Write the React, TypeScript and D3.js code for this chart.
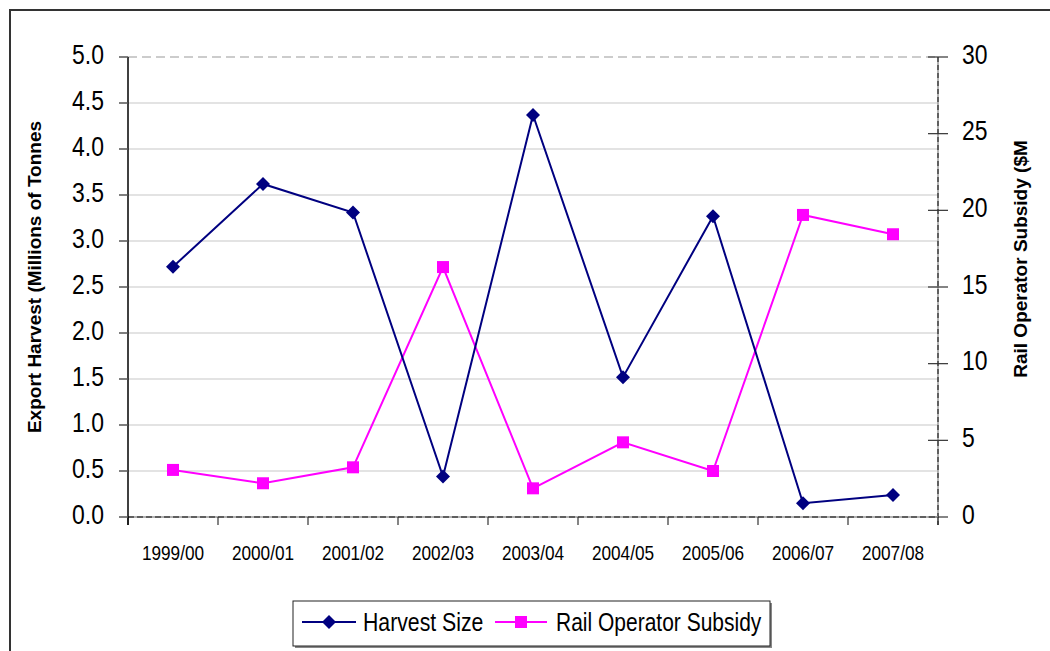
import React from 'react'
import { scaleLinear, scaleBand, line, range } from 'd3'

const categories = ['1999/00', '2000/01', '2001/02', '2002/03', '2003/04', '2004/05', '2005/06', '2006/07', '2007/08']
const harvest = [2.72, 3.62, 3.31, 0.44, 4.37, 1.52, 3.27, 0.15, 0.24]
const subsidy = [3.07, 2.2, 3.24, 16.3, 1.87, 4.87, 3.0, 19.7, 18.44]
const leftTicks = range(0, 5.01, 0.5)
const rightTicks = [0, 5, 10, 15, 20, 25, 30]

const W = 1050
const H = 651
const plot = { left: 128, right: 938, top: 57, bottom: 517 }
const font = 'Liberation Sans, Arial, sans-serif'
const navy = '#000080'
const magenta = '#ff00ff'

const App = () => {
  const x = scaleBand().domain(categories).range([plot.left, plot.right])
  const yL = scaleLinear().domain([0, 5]).range([plot.bottom, plot.top])
  const yR = scaleLinear().domain([0, 30]).range([plot.bottom, plot.top])
  const cx = (c: string) => (x(c) as number) + x.bandwidth() / 2

  const harvestLine = line<number>().x((d, i) => cx(categories[i])).y(d => yL(d))
  const subsidyLine = line<number>().x((d, i) => cx(categories[i])).y(d => yR(d))

  const diamond = (px: number, py: number, r: number) =>
    `M${px},${py - r}L${px + r},${py}L${px},${py + r}L${px - r},${py}Z`

  return (
    <svg width={W} height={H} style={{ position: 'absolute', left: 0, top: 0, background: '#fff' }}>
      <rect x={0} y={0} width={W} height={H} fill="#fff" />
      {/* outer chart border, cut off at right and bottom */}
      <path d={`M10,${H + 5}V10H${W + 5}`} fill="none" stroke="#333" strokeWidth={2} />

      {/* gridlines */}
      {leftTicks.filter(t => t > 0 && t < 5).map(t => (
        <line key={t} x1={plot.left} x2={plot.right} y1={yL(t)} y2={yL(t)} stroke="#c8c8c8" strokeWidth={1.2} />
      ))}
      <line x1={plot.left} x2={plot.right} y1={yL(5)} y2={yL(5)} stroke="#999" strokeWidth={1.2} strokeDasharray="9,5" />

      {/* right axis */}
      <line x1={plot.right} x2={plot.right} y1={plot.top} y2={plot.bottom + 8} stroke="#999" strokeWidth={1.5} />
      <line x1={plot.right} x2={plot.right} y1={plot.top} y2={plot.bottom + 8} stroke="#444" strokeWidth={1.5} strokeDasharray="5,3" />
      {rightTicks.map(t => (
        <g key={t}>
          <line x1={plot.right - 10} x2={plot.right + 10} y1={yR(t)} y2={yR(t)} stroke="#333" strokeWidth={1.2} />
          <text transform={`translate(962,${yR(t) + 6.5}) scale(0.82,1)`} fontFamily={font} fontSize={28} fill="#000">{t}</text>
        </g>
      ))}

      {/* bottom axis */}
      <line x1={plot.left} x2={plot.right} y1={plot.bottom} y2={plot.bottom} stroke="#999" strokeWidth={1.5} />
      <line x1={plot.left} x2={plot.right} y1={plot.bottom} y2={plot.bottom} stroke="#444" strokeWidth={1.5} strokeDasharray="6,3" />
      {range(categories.length + 1).map(i => (
        <line key={i} x1={plot.left + i * x.bandwidth()} x2={plot.left + i * x.bandwidth()} y1={plot.bottom} y2={plot.bottom + 8} stroke="#333" strokeWidth={1.2} />
      ))}
      {categories.map(c => (
        <text key={c} transform={`translate(${cx(c)},560) scale(0.82,1)`} textAnchor="middle" fontFamily={font} fontSize={21} fill="#000">{c}</text>
      ))}

      {/* left axis */}
      <line x1={plot.left} x2={plot.left} y1={plot.top} y2={plot.bottom + 8} stroke="#000" strokeWidth={1.5} />
      {leftTicks.map(t => (
        <g key={t}>
          <line x1={plot.left - 9} x2={plot.left} y1={yL(t)} y2={yL(t)} stroke="#555" strokeWidth={1.5} />
          <text transform={`translate(104,${yL(t) + 6.5}) scale(0.82,1)`} textAnchor="end" fontFamily={font} fontSize={28} fill="#000">{t.toFixed(1)}</text>
        </g>
      ))}

      {/* axis titles */}
      <text transform="translate(41,277) rotate(-90)" textAnchor="middle" fontFamily={font} fontSize={19} fontWeight="bold" fill="#000">
        Export Harvest (Millions of Tonnes
      </text>
      <text transform="translate(1027,259) rotate(-90)" textAnchor="middle" fontFamily={font} fontSize={19} fontWeight="bold" fill="#000">
        Rail Operator Subsidy ($M
      </text>

      {/* series */}
      <path d={subsidyLine(subsidy) as string} fill="none" stroke={magenta} strokeWidth={2} />
      <path d={harvestLine(harvest) as string} fill="none" stroke={navy} strokeWidth={2} />
      {harvest.map((v, i) => (
        <path key={i} d={diamond(cx(categories[i]), yL(v), 7)} fill={navy} />
      ))}
      {subsidy.map((v, i) => (
        <rect key={i} x={cx(categories[i]) - 6} y={yR(v) - 6} width={12} height={12} fill={magenta} />
      ))}

      {/* legend */}
      <rect x={295} y={603} width={477} height={45} fill="#888" />
      <rect x={293} y={601} width={477} height={45} fill="#fff" stroke="#222" strokeWidth={1} />
      <line x1={302} x2={356} y1={622} y2={622} stroke={navy} strokeWidth={2} />
      <path d={diamond(329, 622, 7)} fill={navy} />
      <text transform="translate(363,631) scale(0.85,1)" fontFamily={font} fontSize={25} fill="#000">Harvest Size</text>
      <line x1={495} x2={547} y1={622} y2={622} stroke={magenta} strokeWidth={2} />
      <rect x={515} y={616} width={12} height={12} fill={magenta} />
      <text transform="translate(556,631) scale(0.84,1)" fontFamily={font} fontSize={25} fill="#000">Rail Operator Subsidy</text>
    </svg>
  )
}

export default App
